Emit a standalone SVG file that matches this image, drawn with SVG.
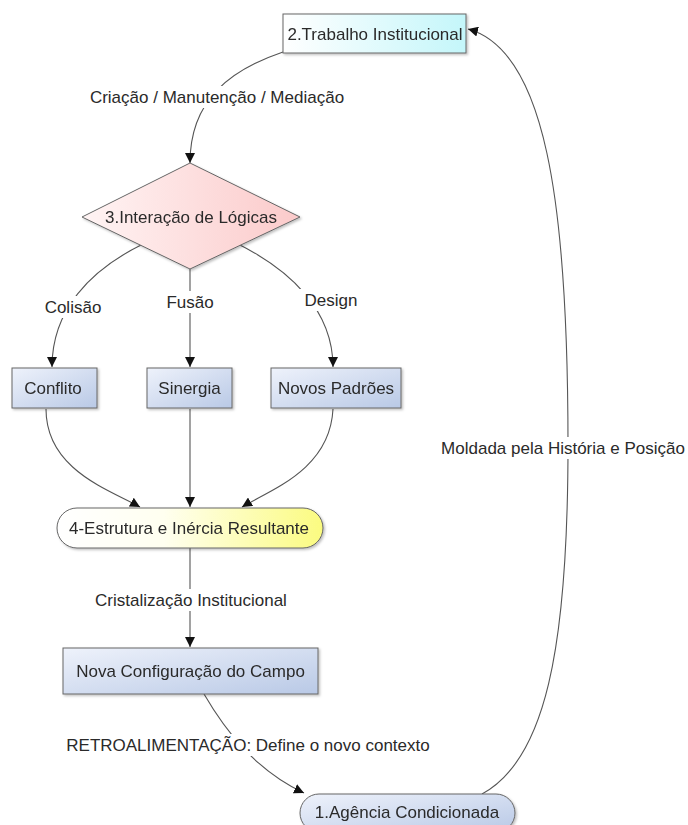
<svg xmlns="http://www.w3.org/2000/svg" width="688" height="825" viewBox="0 0 688 825">
<defs>
<style>
text{font-family:"Liberation Sans",Arial,sans-serif;font-size:17px;fill:#2a2a2a;text-anchor:middle;dominant-baseline:central}
.node{stroke:#666;stroke-width:1}
.blue{fill:url(#gBlue)}
.edge{fill:none;stroke:#555;stroke-width:1.1;marker-end:url(#arr)}
.bg{fill:#fff}
</style>
<linearGradient id="gBlue" x1="0" y1="0" x2="1" y2="1">
<stop offset="0" stop-color="#eef2fb"/><stop offset="1" stop-color="#b9c9e6"/>
</linearGradient>
<linearGradient id="gCyan" x1="0" y1="0" x2="1" y2="0">
<stop offset="0" stop-color="#ffffff"/><stop offset="1" stop-color="#c4f6fa"/>
</linearGradient>
<linearGradient id="gPink" x1="0" y1="0" x2="1" y2="0">
<stop offset="0" stop-color="#fff4f4"/><stop offset="1" stop-color="#fbcaca"/>
</linearGradient>
<linearGradient id="gYellow" x1="0" y1="0" x2="1" y2="0">
<stop offset="0" stop-color="#ffffff"/><stop offset="0.4" stop-color="#fffff0"/><stop offset="1" stop-color="#fbfb80"/>
</linearGradient>
<filter id="sh" x="-10%" y="-10%" width="120%" height="130%">
<feDropShadow dx="1.5" dy="1.5" stdDeviation="1" flood-color="#000" flood-opacity="0.25"/>
</filter>
<marker id="arr" viewBox="0 0 10 10" refX="10" refY="5" markerWidth="10" markerHeight="10" markerUnits="userSpaceOnUse" orient="auto">
<path d="M0,0 L10,5 L0,10 z" fill="#111"/>
</marker>
</defs>
<rect width="688" height="825" fill="#fff"/>

<g id="connectors">
<path class="edge" d="M283,52 C230,70 190,100 190,163"/>
<path class="edge" d="M143,244 C90,270 52,310 52,367"/>
<path class="edge" d="M190,269 L190,367"/>
<path class="edge" d="M238,244 C290,270 333,310 333,367"/>
<path class="edge" d="M46,409 C46,470 110,490 140,507"/>
<path class="edge" d="M190,409 L190,507"/>
<path class="edge" d="M333,409 C330,470 270,490 242,507"/>
<path class="edge" d="M190,548 L190,647"/>
<path class="edge" d="M204,694 C225,730 255,770 304,793"/>
<path class="edge" d="M482,794 C545,760 568,650 568,445 C568,200 545,50 468,29"/>
<g id="labels">
<rect class="bg" x="82" y="86" width="270" height="22"/>
<text x="217" y="97">Criação / Manutenção / Mediação</text>
<rect class="bg" x="38" y="296" width="70" height="22"/>
<text x="73" y="307">Colisão</text>
<rect class="bg" x="164" y="291" width="52" height="22"/>
<text x="190" y="302">Fusão</text>
<rect class="bg" x="299" y="289" width="64" height="22"/>
<text x="331" y="300">Design</text>
<rect class="bg" x="88" y="589" width="206" height="22"/>
<text x="191" y="600">Cristalização Institucional</text>
<rect class="bg" x="58" y="734" width="380" height="22"/>
<text x="248" y="745">RETROALIMENTAÇÃO: Define o novo contexto</text>
<rect class="bg" x="436" y="437" width="252" height="22"/>
<text x="563" y="448">Moldada pela História e Posição</text>
</g>
</g>

<g id="n2" filter="url(#sh)">
<rect class="node" x="283" y="14" width="183" height="39" fill="url(#gCyan)"/>
<text x="375" y="34">2.Trabalho Institucional</text>
</g>
<g id="n3" filter="url(#sh)">
<polygon class="node" points="190,163 300,217 190,269 82,217" fill="url(#gPink)"/>
<text x="191" y="217">3.Interação de Lógicas</text>
</g>
<g id="conflito" filter="url(#sh)">
<rect class="node blue" x="12" y="368" width="85" height="40"/>
<text x="53" y="388">Conflito</text>
</g>
<g id="sinergia" filter="url(#sh)">
<rect class="node blue" x="147" y="368" width="85" height="40"/>
<text x="189.5" y="388">Sinergia</text>
</g>
<g id="novos" filter="url(#sh)">
<rect class="node blue" x="271" y="368" width="130" height="40"/>
<text x="336" y="388">Novos Padrões</text>
</g>
<g id="n4" filter="url(#sh)">
<rect class="node" x="57" y="508" width="266" height="40" rx="20" fill="url(#gYellow)"/>
<text x="189" y="528">4-Estrutura e Inércia Resultante</text>
</g>
<g id="nova" filter="url(#sh)">
<rect class="node blue" x="63" y="648" width="255" height="46"/>
<text x="190.5" y="671">Nova Configuração do Campo</text>
</g>
<g id="n1" filter="url(#sh)">
<rect class="node blue" x="300" y="794" width="215" height="38" rx="19"/>
<text x="407" y="812">1.Agência Condicionada</text>
</g>
</svg>
